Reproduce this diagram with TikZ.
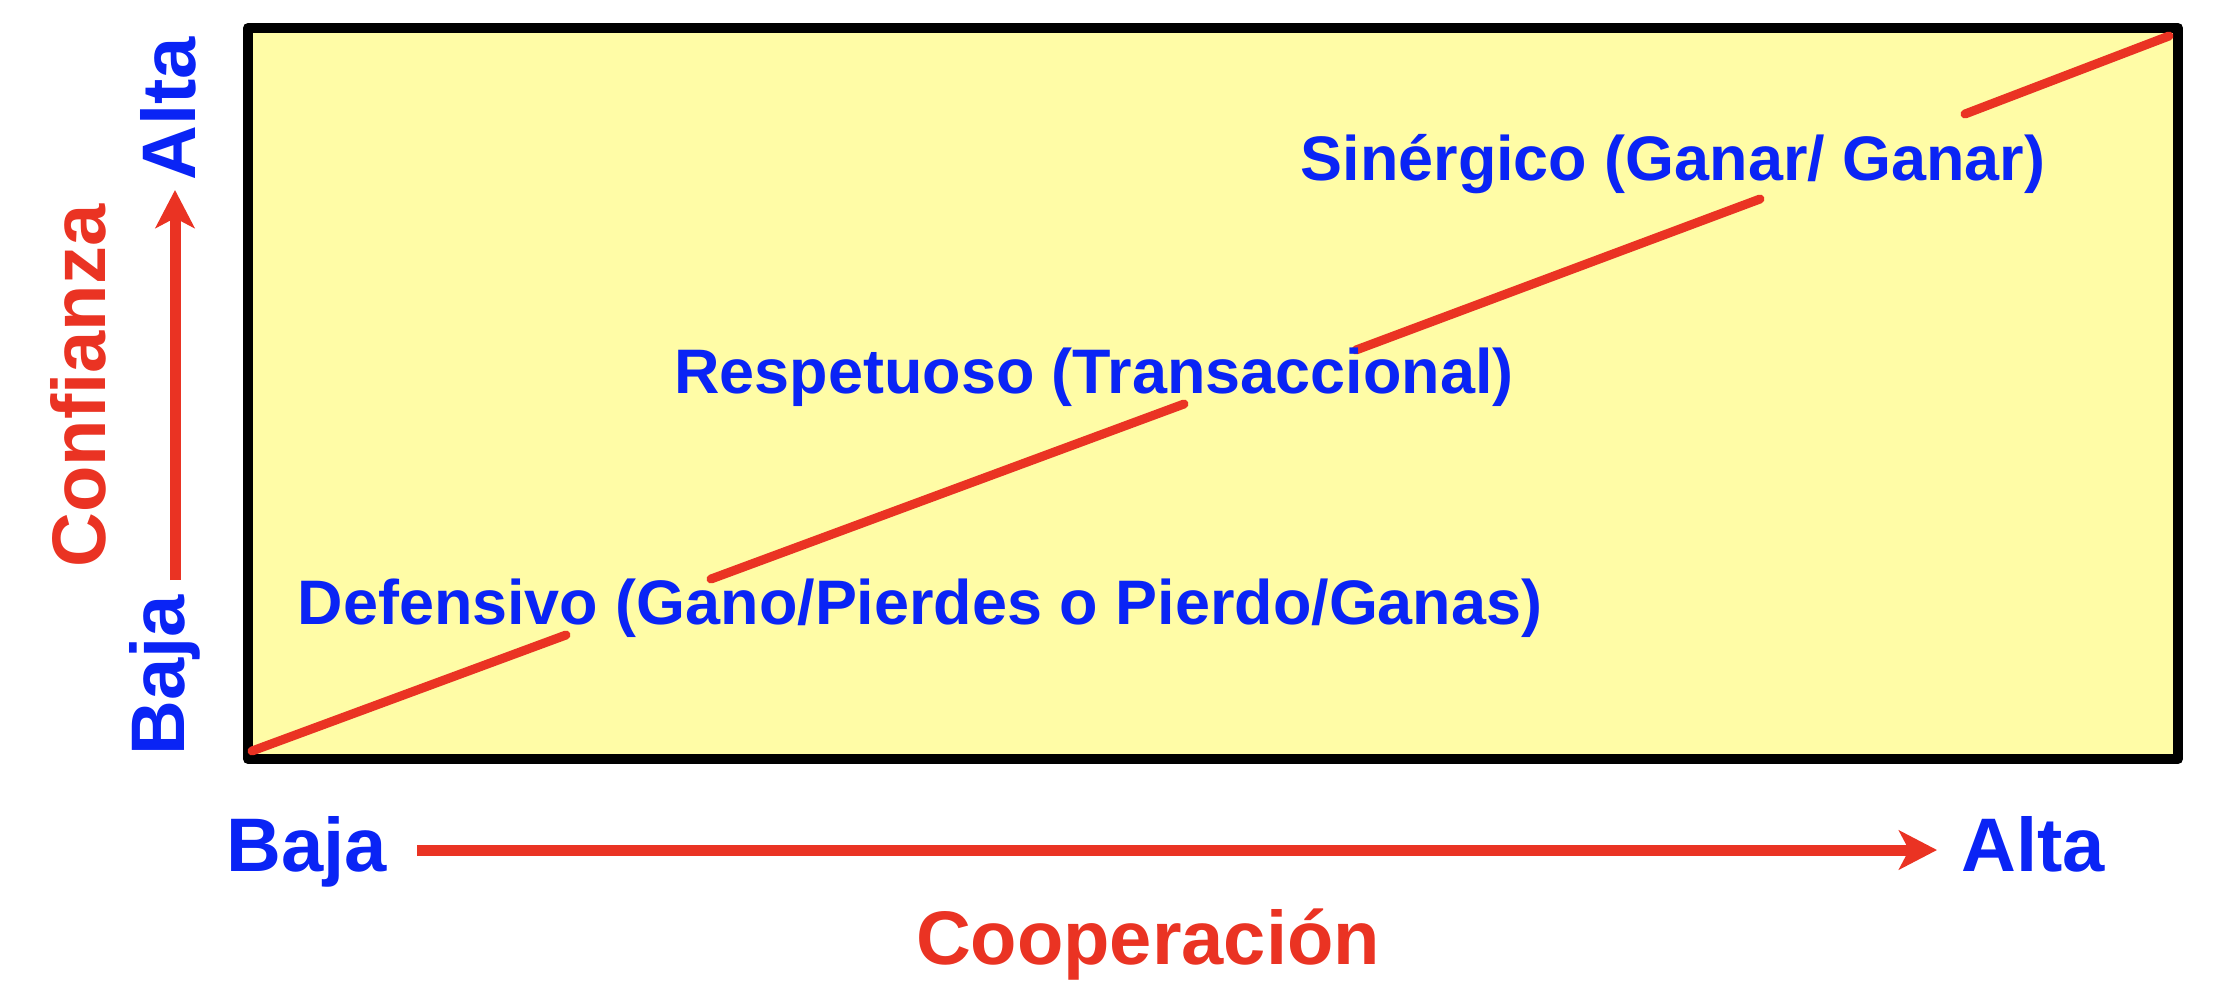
\documentclass[tikz,border=0pt]{standalone}
\usepackage{fontspec}
\setmainfont{Liberation Sans}
\usetikzlibrary{arrows.meta}

\definecolor{etiquetaazul}{RGB}{10,36,245}
\definecolor{ejerojo}{RGB}{234,51,35}
\definecolor{fondoamarillo}{RGB}{255,252,166}

\begin{document}
\begin{tikzpicture}[>={Stealth[length=3.8mm, width=3.9mm, inset=1mm]},
        tipo/.style={etiquetaazul, font=\fontsize{17.9}{20}\selectfont\bfseries, inner sep=0pt, anchor=base},
        eje/.style={font=\fontsize{21.6}{24}\selectfont\bfseries, inner sep=0pt, anchor=base},
        flecha/.style={ejerojo, line width=1.1mm, ->},
        diagonal/.style={ejerojo, line width=0.9mm, line cap=round}]
        \useasboundingbox (0,0) rectangle (22.32,9.89);

        % --- Cuadro de fondo ---
        \draw[fill=fondoamarillo, line width=1mm, line join=round] (2.48,2.30) rectangle (21.78,9.61);

        % --- Diagonal cortada por los textos ---
        \draw[diagonal] (2.52,2.38) -- (5.66,3.54);
        \draw[diagonal] (7.11,4.10) -- (11.84,5.85);
        \draw[diagonal] (13.56,6.39) -- (17.60,7.90);
        \draw[diagonal] (19.65,8.75) -- (21.69,9.53);

        % --- Tipos de comunicacion ---
        \node[tipo] (defensivo) at (9.20,3.65) {Defensivo (Gano/Pierdes o Pierdo/Ganas)};
        \node[tipo] (respetuoso) at (10.94,5.96) {Respetuoso (Transaccional)};
        \node[tipo] (sinergico) at (16.73,8.09) {Sinérgico (Ganar/ Ganar)};

        % --- Eje horizontal: Cooperacion ---
        \node[eje, etiquetaazul] (xbaja) at (3.07,1.18) {Baja};
        \node[eje, etiquetaazul] (xalta) at (20.33,1.18) {Alta};
        \node[eje, ejerojo] (cooperacion) at (11.48,0.25) {Cooperación};
        \coordinate (xinicio) at (4.17,1.39);
        \coordinate (xfin) at (19.37,1.39);
        \draw[flecha] (xinicio) -- (xfin);

        % --- Eje vertical: Confianza ---
        \node[eje, etiquetaazul, rotate=90] (ybaja) at (1.84,3.14) {Baja};
        \node[eje, etiquetaazul, rotate=90] (yalta) at (1.95,8.80) {Alta};
        \node[eje, ejerojo, rotate=90] (confianza) at (1.06,6.03) {Confianza};
        \coordinate (yinicio) at (1.75,4.09);
        \coordinate (yfin) at (1.75,7.99);
        \draw[flecha] (yinicio) -- (yfin);
\end{tikzpicture}
\end{document}
